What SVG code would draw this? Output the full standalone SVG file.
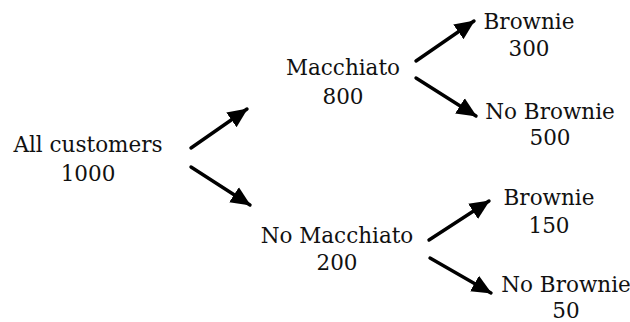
<svg xmlns="http://www.w3.org/2000/svg" width="630" height="322" viewBox="0 0 630 322">
<style>
text{font-family:"DejaVu Serif","Liberation Serif",serif;font-size:21.5px;fill:#111;text-anchor:middle}
.c line{stroke:#000;stroke-width:3.4;stroke-linecap:round}
</style>
<defs>
<marker id="ah" markerUnits="userSpaceOnUse" markerWidth="22" markerHeight="22" viewBox="0 0 22 22" refX="19" refY="11" orient="auto">
<path d="M0,2 L20,11 L0,20 Z" fill="#000"/>
</marker>
</defs>
<rect width="630" height="322" fill="#fff"/>
<g class="c" id="connectors">
<line x1="191" y1="148" x2="247" y2="109" marker-end="url(#ah)"/>
<line x1="191" y1="167" x2="250" y2="205" marker-end="url(#ah)"/>
<line x1="416" y1="61" x2="474" y2="21" marker-end="url(#ah)"/>
<line x1="416" y1="78" x2="476" y2="116" marker-end="url(#ah)"/>
<line x1="429" y1="240" x2="489" y2="201" marker-end="url(#ah)"/>
<line x1="430" y1="258" x2="491" y2="293" marker-end="url(#ah)"/>
</g>
<g id="all"><text x="88" y="152">All customers</text><text x="88" y="181">1000</text></g>
<g id="mac"><text x="343" y="75">Macchiato</text><text x="343" y="104">800</text></g>
<g id="mac-b"><text x="529" y="29">Brownie</text><text x="529" y="56">300</text></g>
<g id="mac-nb"><text x="550" y="119">No Brownie</text><text x="550" y="145">500</text></g>
<g id="nomac"><text x="337" y="243">No Macchiato</text><text x="337" y="270">200</text></g>
<g id="nomac-b"><text x="549" y="205">Brownie</text><text x="549" y="233">150</text></g>
<g id="nomac-nb"><text x="566" y="292">No Brownie</text><text x="566" y="318">50</text></g>
</svg>
